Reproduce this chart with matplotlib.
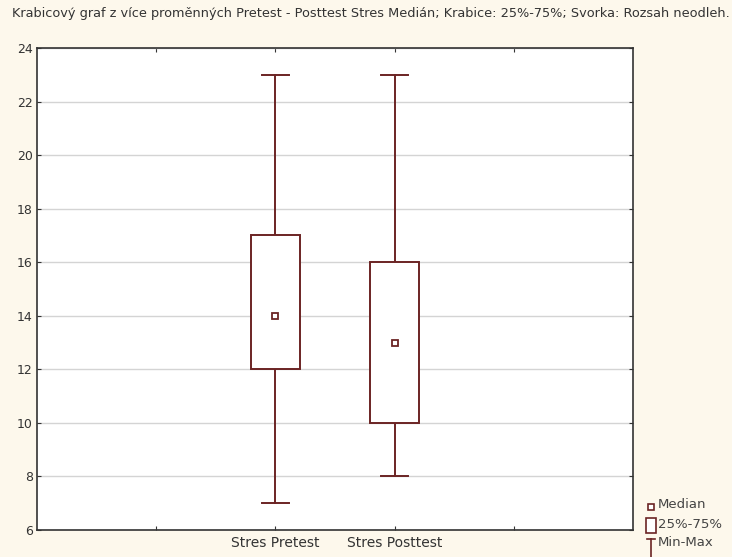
import numpy as np
import matplotlib
matplotlib.use('Agg')
import matplotlib.pyplot as plt
from matplotlib.patches import Rectangle
from matplotlib.lines import Line2D

# data
categories = ['Stres Pretest', 'Stres Posttest']
positions = [2, 3]
minimum = [7, 8]
q1 = [12, 10]
median = [14, 13]
q3 = [17, 16]
maximum = [23, 23]

title = ('Krabicový graf z více proměnných Pretest - Posttest Stres '
         'Medián; Krabice: 25%-75%; Svorka: Rozsah neodleh.')

box_col = '#6b2424'
bg_col = '#fdf8ec'

fig = plt.figure(figsize=(7.32, 5.57), dpi=100, facecolor=bg_col)
ax = fig.add_axes([37 / 732, 27 / 557, 596 / 732, 482 / 557])
ax.set_facecolor('white')

ax.set_xlim(0, 5)
ax.set_ylim(6, 24)
ax.set_yticks(np.arange(6, 25, 2))
ax.set_xticks([1, 2, 3, 4])
ax.set_xticklabels(['', categories[0], categories[1], ''])
ax.yaxis.grid(True, color='#d4d4d4', linewidth=1)
ax.set_axisbelow(True)
ax.tick_params(axis='both', direction='in', length=3, labelsize=9,
               labelcolor='#333333', color='#333333', pad=3)
ax.tick_params(axis='x', top=True, pad=4, labelsize=10)
ax.tick_params(axis='y', right=True)
for s in ax.spines.values():
    s.set_color('#333333')
    s.set_linewidth(1.2)

bw = 0.41
cw = 0.22
for p, lo, a, m, b, hi in zip(positions, minimum, q1, median, q3, maximum):
    ax.add_patch(Rectangle((p - bw / 2, a), bw, b - a, facecolor='white',
                           edgecolor=box_col, linewidth=1.4, zorder=3))
    ax.plot([p, p], [b, hi], color=box_col, lw=1.4, zorder=2)
    ax.plot([p, p], [lo, a], color=box_col, lw=1.4, zorder=2)
    ax.plot([p - cw / 2, p + cw / 2], [hi, hi], color=box_col, lw=1.4, zorder=2)
    ax.plot([p - cw / 2, p + cw / 2], [lo, lo], color=box_col, lw=1.4, zorder=2)
    ax.plot([p], [m], marker='s', ms=5, mfc='white', mec=box_col, mew=1.3,
            ls='none', zorder=4)

fig.text(12 / 732, 1 - 13 / 557, title, fontsize=9.3, color='#333333',
         ha='left', va='center')

# legend drawn by hand in figure coords
lx = 651 / 732
fig.add_artist(Line2D([lx], [1 - 507 / 557], marker='s', ms=4, mfc='white',
                      mec=box_col, mew=1.2, ls='none'))
fig.add_artist(Rectangle((lx - 5 / 732, 1 - 533 / 557), 10 / 732, 15 / 557,
                         facecolor='white', edgecolor=box_col, lw=1.2))
fig.add_artist(Line2D([lx, lx], [1 - 539 / 557, 1 - 557 / 557],
                      color=box_col, lw=1.2))
fig.add_artist(Line2D([lx - 4 / 732, lx + 4 / 732], [1 - 539 / 557] * 2,
                      color=box_col, lw=1.2))
for yy, lab in [(504, 'Median'), (524, '25%-75%'), (542, 'Min-Max')]:
    fig.text(658 / 732, 1 - yy / 557, lab, fontsize=9.5, color='#444444',
             ha='left', va='center')

fig.savefig('out.png', dpi=100, facecolor=bg_col)
